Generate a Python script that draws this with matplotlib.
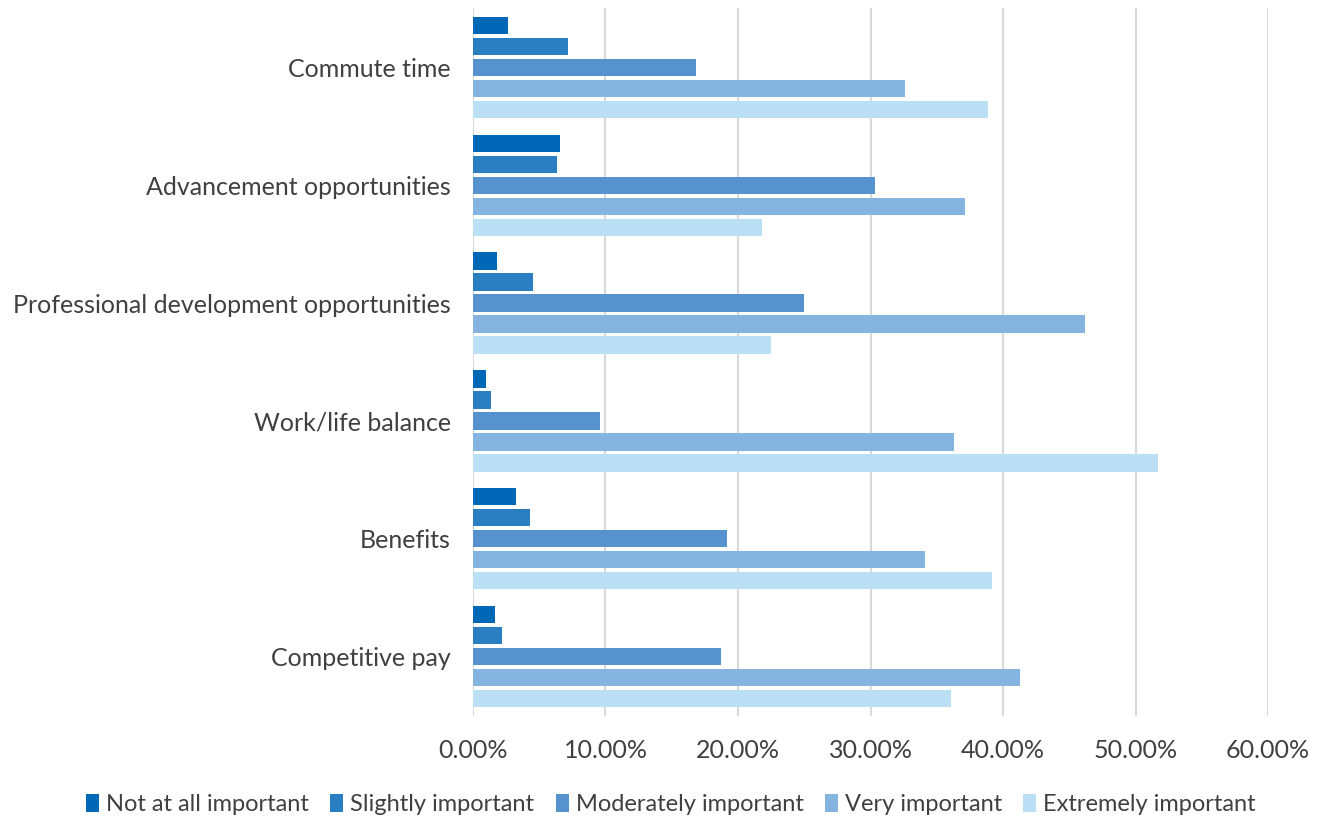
import matplotlib
matplotlib.use('Agg')
import matplotlib.pyplot as plt
import numpy as np
from matplotlib.ticker import FuncFormatter, MultipleLocator

# カテゴリ（下から上の順）
categories = ['Competitive pay', 'Benefits', 'Work/life balance',
              'Professional development opportunities',
              'Advancement opportunities', 'Commute time']
series_names = ['Not at all important', 'Slightly important',
                'Moderately important', 'Very important', 'Extremely important']

# 各系列の値（%）, categories と同じ順
not_at_all = [1.66, 3.25, 1.0, 1.8, 6.6, 2.65]
slightly = [2.2, 4.3, 1.4, 4.5, 6.35, 7.18]
moderately = [18.7, 19.2, 9.6, 25.0, 30.3, 16.8]
very = [41.3, 34.1, 36.3, 46.2, 37.1, 32.6]
extremely = [36.1, 39.2, 51.7, 22.5, 21.8, 38.9]
values = [not_at_all, slightly, moderately, very, extremely]

colors = ['#0068B6', '#2A7FC3', '#5592CE', '#86B4E0', '#BBDFF5']
text_color = '#404040'

plt.rcParams['font.family'] = ['Lato', 'DejaVu Sans']

fig = plt.figure(figsize=(13.21, 8.19), dpi=100)
ax = fig.add_axes([0.358, 0.126, 0.602, 0.864])

y = np.arange(len(categories))
pitch = 0.178
height = 0.145
for i, (name, vals) in enumerate(zip(series_names, values)):
    ax.barh(y + (2 - i) * pitch, vals, height=height, color=colors[i],
            label=name, zorder=3)

ax.set_ylim(-0.5, len(categories) - 0.5)
ax.set_xlim(0, 60)
ax.xaxis.set_major_locator(MultipleLocator(10))
ax.xaxis.set_major_formatter(FuncFormatter(lambda v, p: f'{v:.2f}%'))
ax.set_yticks(y)
ax.set_yticklabels(categories)
ax.grid(axis='x', color='#D9D9D9', linewidth=1.5, zorder=0)
for s in ax.spines.values():
    s.set_visible(False)
ax.tick_params(axis='both', length=0, labelsize=18, colors=text_color)
ax.tick_params(axis='x', pad=17)
ax.tick_params(axis='y', pad=16)

fig.legend(loc='lower center', bbox_to_anchor=(0.508, -0.021), ncol=5,
           frameon=False, fontsize=17, handlelength=0.55, handleheight=0.8,
           handletextpad=0.3, columnspacing=0.9, labelcolor=text_color)

plt.savefig('out.png')
plt.close()
